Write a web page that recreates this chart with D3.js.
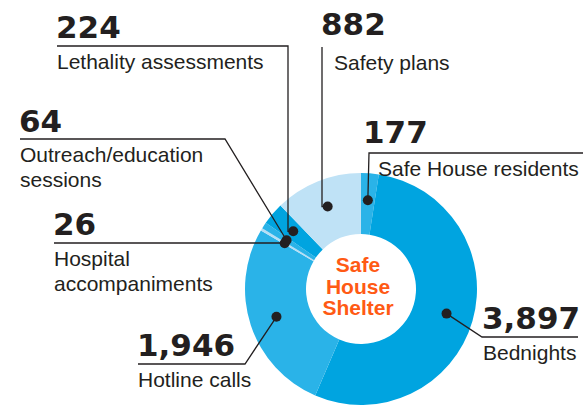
<!DOCTYPE html>
<html>
  <head>
    <meta charset="utf-8" />
    <title>Safe House Shelter</title>
  </head>

  <style>
    body {
      background: #fff;
      margin: 0px;
      padding: 0px;
    }
    text {
      font-family: "Liberation Sans", Arial, sans-serif;
      fill: #231f20;
    }
    .num {
      font-family: "DejaVu Sans", sans-serif;
      font-weight: bold;
      font-size: 31px;
    }
    .lbl {
      font-size: 21px;
    }
    .leader {
      stroke: #231f20;
      stroke-width: 1.3;
      fill: none;
    }
    .centre {
      fill: #ff5a14;
      font-weight: bold;
      font-size: 21px;
    }
  </style>

  <body>
    <script src="https://d3js.org/d3.v7.min.js"></script>

    <script>

      // slices, clockwise from 12 o'clock
      var categories = ["Safe House residents", "Bednights", "Hotline calls",
                        "Hospital accompaniments", "Outreach/education sessions",
                        "Lethality assessments", "Safety plans"];
      var values = [177, 3897, 1946, 26, 64, 224, 882];
      var valueLabels = ["177", "3,897", "1,946", "26", "64", "224", "882"];
      var sliceColors = ["#2ab3e8", "#00a4e0", "#2ab3e8", "#b5def5", "#2ab3e8", "#00a4e0", "#bfe2f6"];

      var width = 583, height = 409;
      var cx = 361, cy = 289,
          outerR = 116, innerR = 55, dotR = 89;

      var svg = d3.select("body").append("svg")
          .attr("width", width)
          .attr("height", height);

      var pie = d3.pie().sort(null).value(function(d) { return d; });
      var arcs = pie(values);

      var arc = d3.arc().innerRadius(innerR).outerRadius(outerR);
      var dotArc = d3.arc().innerRadius(dotR).outerRadius(dotR);

      var g = svg.append("g")
          .attr("transform", "translate(" + cx + "," + cy + ")");

      g.selectAll(".slice")
          .data(arcs)
        .enter().append("path")
          .attr("class", "slice")
          .attr("d", arc)
          .style("fill", function(d, i) { return sliceColors[i]; });

      var dots = arcs.map(function(d) {
        var c = dotArc.centroid(d);
        return [cx + c[0], cy + c[1]];
      });

      // label layout: number position, rule end, label x and elbow
      var layout = [
        {x: 364, y: 143, rule: 583, lines: ["Safe House residents"], lx: 378, elbow: [369, 153]},
        {x: 483, y: 329, rule: 578, lines: ["Bednights"], lx: 483, elbow: [482, 337]},
        {x: 138, y: 356, rule: 245, lines: ["Hotline calls"], lx: 138, elbow: [245, 364]},
        {x: 54, y: 235, rule: 54, lines: ["Hospital", "accompaniments"], lx: 54, elbow: [54, 243]},
        {x: 20, y: 132, rule: 225, lines: ["Outreach/education", "sessions"], lx: 20, elbow: [225, 139]},
        {x: 57, y: 38, rule: 288, lines: ["Lethality assessments"], lx: 57, elbow: [288, 46]},
        {x: 322, y: 35, rule: 443, lines: ["Safety plans"], lx: 334, elbow: [322, 47]}
      ];

      layout.forEach(function(l, i) {
        var ruleY = l.elbow[1];
        var path;
        if (i == 0 || i == 1) path = [[l.rule, ruleY], l.elbow, dots[i]];
        else if (i == 3) path = [[l.x, ruleY], [dots[i][0], ruleY], dots[i]];
        else if (i == 5 || i == 6) path = [[l.x, ruleY], [l.elbow[0], ruleY], [l.elbow[0], dots[i][1]], dots[i]];
        else path = [[l.x, ruleY], l.elbow, dots[i]];

        svg.append("path")
          .attr("class", "leader")
          .attr("d", d3.line()(path));

        svg.append("text")
          .attr("class", "num")
          .attr("x", l.x - 1)
          .attr("y", l.y)
          .text(valueLabels[i]);

        l.lines.forEach(function(t, j) {
          svg.append("text")
            .attr("class", "lbl")
            .attr("x", l.lx)
            .attr("y", ruleY + 23 + j * 25)
            .text(t);
        });
      });

      svg.selectAll(".dot")
          .data(dots)
        .enter().append("circle")
          .attr("class", "dot")
          .attr("cx", function(d) { return d[0]; })
          .attr("cy", function(d) { return d[1]; })
          .attr("r", 5)
          .style("fill", "#231f20");

      var centreLines = ["Safe", "House", "Shelter"];
      svg.selectAll(".centre")
          .data(centreLines)
        .enter().append("text")
          .attr("class", "centre")
          .attr("text-anchor", "middle")
          .attr("x", cx - 3)
          .attr("y", function(d, i) { return 272 + i * 21.5; })
          .text(function(d) { return d; });

    </script>
  </body>
</html>
